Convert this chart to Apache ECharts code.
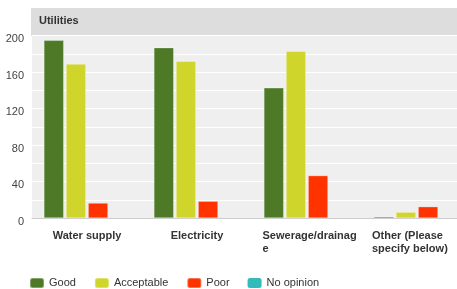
<!DOCTYPE html>
<html>
<head>
<meta charset="utf-8">
<script src="https://cdn.jsdelivr.net/npm/echarts@6/dist/echarts.min.js"></script>
<style>
html,body{margin:0;padding:0;background:#fff;}
#c{width:457px;height:289px;}
</style>
</head>
<body>
<div id="c"></div>
<script>
var categories = ['Water supply', 'Electricity', 'Sewerage/drainage', 'Other (Please specify below)'];
var tickLabels = ['Water supply', 'Electricity', 'Sewerage/drainag\ne', 'Other (Please\nspecify below)'];
var seriesNames = ['Good', 'Acceptable', 'Poor', 'No opinion'];
var good = [195, 187, 143, 2];
var acceptable = [169, 172, 183, 7];
var poor = [17, 19, 47, 13];
var noOpinion = [0, 0, 0, 0];
var yTickLabels = [0, 40, 80, 120, 160, 200];
var colors = ['#4e7a27', '#cfd52a', '#ff3300', '#33bbbb'];
var FONT = '"Liberation Sans", Arial, sans-serif';

var chart = echarts.init(document.getElementById('c'), null, {renderer: 'canvas'});
var values = [good, acceptable, poor, noOpinion];
var series = seriesNames.map(function (n, i) {
  return {
    name: n,
    type: 'bar',
    data: values[i],
    barWidth: 20.3,
    barGap: '9%',
    itemStyle: {color: colors[i], borderColor: 'rgba(255,255,255,0.3)', borderWidth: i === 3 ? 0 : 1},
    emphasis: {disabled: true}
  };
});

var labelBase = {fontSize: 11, fontWeight: 'bold', color: '#333', fontFamily: FONT, lineHeight: 13, align: 'left'};

chart.setOption({
  animation: false,
  color: colors,
  textStyle: {fontFamily: FONT},
  graphic: [
    {type: 'rect', shape: {x: 31, y: 8, width: 426, height: 28}, style: {fill: '#dddddd'}, z: -1},
    {type: 'text', x: 39, y: 21, style: {text: 'Utilities', font: 'bold 11px ' + FONT, fill: '#333', textVerticalAlign: 'middle'}}
  ],
  grid: {left: 32, width: 440, top: 35.5, bottom: 70.7, show: true, backgroundColor: '#efefef', borderWidth: 0, containLabel: false, outerBoundsMode: 'none'},
  legend: {
    left: 29, top: 277, padding: 0, itemWidth: 14, itemHeight: 10, itemGap: 18, icon: 'roundRect',
    textStyle: {fontSize: 11, color: '#333', fontFamily: FONT},
    data: seriesNames
  },
  xAxis: {
    type: 'category',
    data: categories,
    axisLine: {show: true, lineStyle: {color: '#cccccc', width: 1}},
    axisTick: {show: false},
    axisLabel: {
      interval: 0, margin: 11, fontSize: 11, fontWeight: 'bold', color: '#333', fontFamily: FONT,
      lineHeight: 13, hideOverlap: false,
      rich: {
        s: Object.assign({width: 89}, labelBase),
        o: Object.assign({width: 82, padding: [0, 8, 0, 0]}, labelBase)
      },
      formatter: function (v) {
        var i = categories.indexOf(v);
        var t = tickLabels[i];
        if (t.indexOf('\n') >= 0) {
          var key = i === categories.length - 1 ? 'o' : 's';
          return t.split('\n').map(function (s) { return '{' + key + '|' + s + '}'; }).join('\n');
        }
        return t;
      }
    },
    splitLine: {show: false}
  },
  yAxis: {
    type: 'value', min: 0, max: 200, interval: 20,
    axisLine: {show: false}, axisTick: {show: false},
    axisLabel: {
      margin: 8, fontSize: 11, color: '#444', fontFamily: FONT, verticalAlign: 'top', lineHeight: 7,
      formatter: function (v) { return yTickLabels.indexOf(v) >= 0 ? String(v) : ''; }
    },
    splitLine: {show: true, lineStyle: {color: '#ffffff', width: 1}}
  },
  series: series
});
</script>
</body>
</html>
